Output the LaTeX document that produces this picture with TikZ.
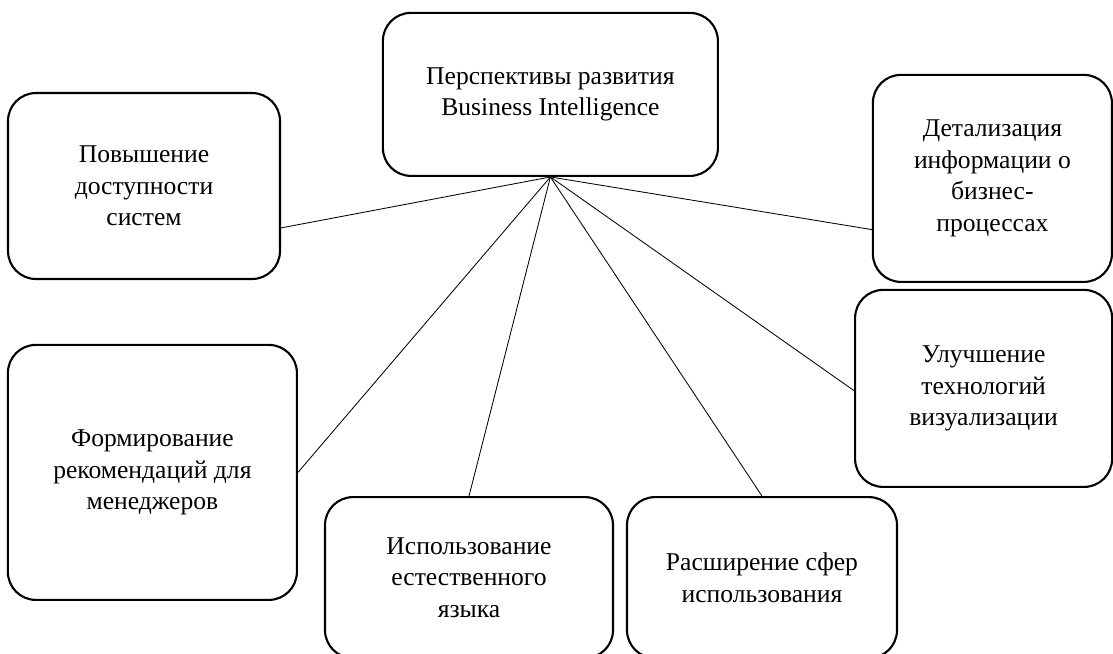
\documentclass[tikz,border=0pt]{standalone}
\usepackage{fontspec}
\setmainfont{Liberation Serif}
\usetikzlibrary{shapes.geometric, arrows}

\begin{document}
\begin{tikzpicture}
        [
            box/.style = {draw, shape=rectangle, rounded corners=0.7cm, align=center, line width=1.5pt, font=\fontsize{18.2}{22.5}\selectfont},
            link/.style = {line width=0.6pt},
        ]

        \useasboundingbox (0,0) rectangle (27.825,-16.325);

        \node[box, minimum width=8.375cm, minimum height=4.075cm] (bi) at (13.76,-2.36)     {Перспективы развития\\Business Intelligence};

        \node[box, minimum width=6.8cm, minimum height=4.65cm] (dost) at (3.6,-4.65)     {Повышение\\доступности\\систем};
        \node[box, minimum width=7.225cm, minimum height=6.375cm] (rec) at (3.81,-11.81)  {Формирование\\рекомендаций для\\менеджеров};

        \node[box, minimum width=5.975cm, minimum height=5.175cm] (detal) at (24.81,-4.46)   {Детализация\\информации о\\бизнес-\\процессах};
        \node[box, minimum width=6.425cm, minimum height=4.925cm] (vis) at (24.59,-9.71)   {Улучшение\\технологий\\визуализации};

        \node[box, minimum width=7.2cm, minimum height=4.025cm] (lang) at (11.725,-14.44) {Использование\\естественного\\языка};
        \node[box, minimum width=6.75cm, minimum height=4.025cm] (sfer) at (19.05,-14.44) {Расширение сфер\\использования};

        \draw [link] (bi.south) -- (dost.-17.5);
        \draw [link] (bi.south) -- (rec.east);
        \draw [link] (bi.south) -- (lang.north);
        \draw [link] (bi.south) -- (sfer.north);
        \draw [link] (bi.south) -- (vis.181);
        \draw [link] (bi.south) -- (detal.203);
    \end{tikzpicture}
\end{document}
